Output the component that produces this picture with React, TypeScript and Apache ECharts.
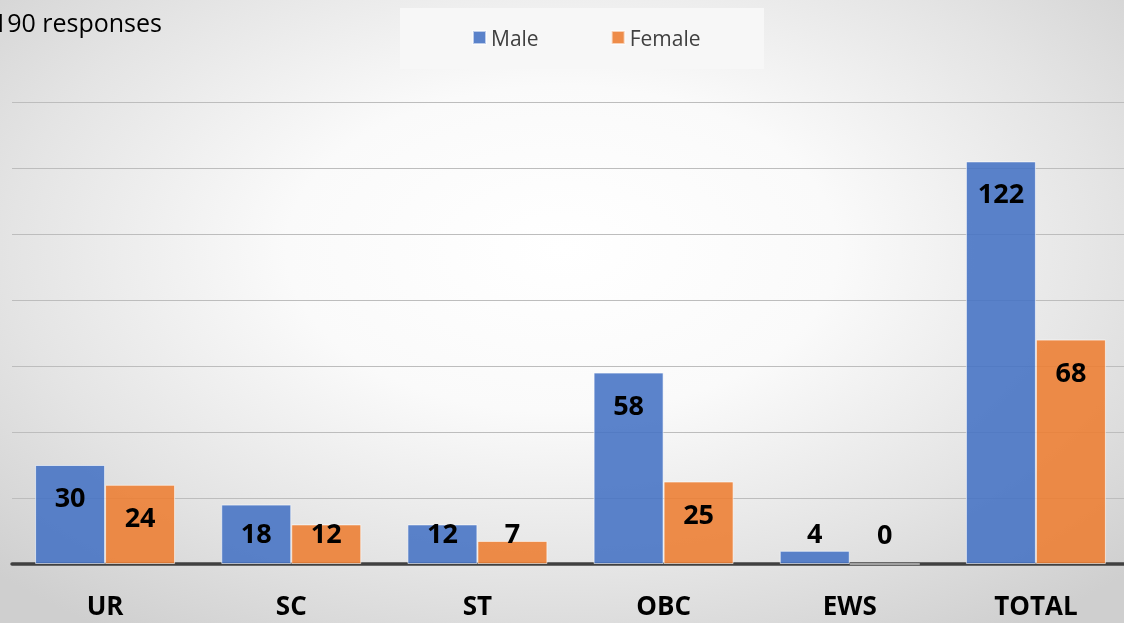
import React, { useEffect, useRef } from "react";
import * as echarts from "echarts";

const categories = ["UR", "SC", "ST", "OBC", "EWS", "TOTAL"];
const maleValues = [30, 18, 12, 58, 4, 122];
const femaleValues = [24, 12, 7, 25, 0, 68];
const titleText = "190 responses";
// bars shorter than this keep their label sitting just above the axis
const shortBarThreshold = 19;

const FONT = "'Open Sans', 'Noto Sans', sans-serif";

function toData(values: number[]) {
  return values.map((v) =>
    v < shortBarThreshold
      ? { value: v, label: { position: "insideBottom", distance: 18 } }
      : { value: v }
  );
}

export default function App() {
  const ref = useRef<HTMLDivElement>(null);
  useEffect(() => {
    if (!ref.current) return;
    const chart = echarts.init(ref.current, undefined, { renderer: "svg" });
    const labelStyle = {
      show: true,
      position: "insideTop",
      distance: 18,
      fontFamily: FONT,
      fontWeight: "bold",
      fontSize: 27,
      color: "#000",
    };
    chart.setOption({
      animation: false,
      backgroundColor: "transparent",
      graphic: [
        {
          type: "rect",
          z: 0,
          shape: { x: 400, y: 8, width: 364, height: 61 },
          style: { fill: "#f7f7f7" },
        },
        {
          type: "text",
          z: 5,
          x: 162,
          y: 22,
          style: {
            text: titleText,
            align: "right",
            verticalAlign: "middle",
            fontFamily: FONT,
            fontSize: 25,
            fill: "#000",
          },
        },
      ],
      legend: {
        left: 467,
        top: 22,
        itemWidth: 13,
        itemHeight: 13,
        itemGap: 72,
        icon: "rect",
        textStyle: { fontFamily: FONT, fontSize: 21, color: "#404040" },
        data: ["Male", "Female"],
      },
      grid: { left: 12, right: 1, top: 102, bottom: 59, containLabel: false },
      xAxis: {
        type: "category",
        data: categories,
        axisLine: { show: true, lineStyle: { color: "#404040", width: 3.5 } },
        axisTick: { show: false },
        axisLabel: {
          margin: 28,
          fontFamily: FONT,
          fontWeight: "bold",
          fontSize: 26,
          color: "#000",
        },
      },
      yAxis: {
        type: "value",
        min: 0,
        max: 140,
        interval: 20,
        axisLabel: { show: false },
        axisLine: { show: false },
        axisTick: { show: false },
        splitLine: { show: true, lineStyle: { color: "#bdbdbd", width: 1 } },
      },
      series: [
        {
          name: "Male",
          type: "bar",
          barWidth: 70,
          barGap: "0%",
          data: toData(maleValues),
          itemStyle: {
            color: "rgba(68,114,196,0.88)",
            borderColor: "rgba(255,255,255,0.6)",
            borderWidth: 1,
          },
          label: labelStyle,
        },
        {
          name: "Female",
          type: "bar",
          barWidth: 70,
          barGap: "0%",
          data: toData(femaleValues),
          itemStyle: {
            color: "rgba(237,125,49,0.88)",
            borderColor: "rgba(255,255,255,0.6)",
            borderWidth: 1,
          },
          label: labelStyle,
        },
      ],
    });
    return () => chart.dispose();
  }, []);
  return (
    <div
      style={{
        position: "fixed",
        left: 0,
        top: 0,
        width: 1124,
        height: 623,
        overflow: "hidden",
        background:
          "radial-gradient(ellipse 70% 75% at 50% 40%, #ffffff 0%, #fafafa 35%, #e4e4e4 70%, #cfcfcf 100%)",
      }}
    >
      <div ref={ref} style={{ width: 1130, height: 623 }} />
    </div>
  );
}
